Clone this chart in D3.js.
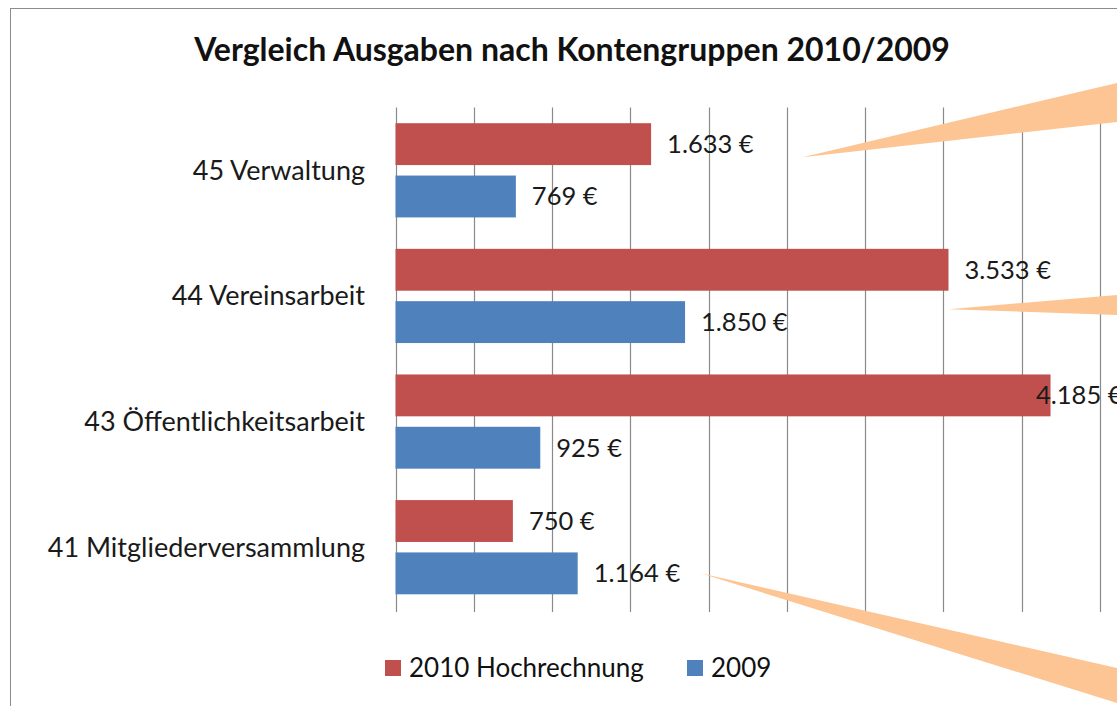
<!DOCTYPE html>
<html>
<head>
<meta charset="utf-8">
<script src="https://cdn.jsdelivr.net/npm/d3@7"></script>
<style>
  body { margin: 0; background: #fff; }
  text { font-family: Lato, "Open Sans", sans-serif; }
</style>
</head>
<body>
<svg id="chart" width="1117" height="706"></svg>
<script>
var categories = ['45 Verwaltung', '44 Vereinsarbeit', '43 Öffentlichkeitsarbeit', '41 Mitgliederversammlung'];
var seriesNames = ['2010 Hochrechnung', '2009'];
var values2010 = [1633, 3533, 4185, 750];
var values2009 = [769, 1850, 925, 1164];
var tickValues = [0, 500, 1000, 1500, 2000, 2500, 3000, 3500, 4000, 4500, 5000];

var colors = ['#c0504d', '#4f81bd'];
var title = 'Vergleich Ausgaben nach Kontengruppen 2010/2009';

var svg = d3.select('#chart'),
    margin = {top: 107.5, left: 395.5, bottom: 96},
    height = +svg.attr('height') - margin.top - margin.bottom;

var data = categories.map(function (c, i) {
  return {cat: c, vals: [values2010[i], values2009[i]]};
});

// frame of the chart area (runs off the picture at right and bottom)
svg.append('rect')
    .attr('x', 10.5).attr('y', 8.5)
    .attr('width', 1300).attr('height', 900)
    .attr('fill', '#fff')
    .attr('stroke', '#8c8c8c');

var x = d3.scaleLinear().domain([0, 5000]).range([margin.left, margin.left + 782.6]);
var y0 = d3.scaleBand().domain(categories)
    .range([margin.top, margin.top + height])
    .paddingInner(0.25).paddingOuter(0.125);
var y1 = d3.scaleBand().domain([0, 1]).range([0, y0.bandwidth()]).paddingInner(0.2);

// gridlines
svg.append('g')
    .selectAll('line')
    .data(tickValues)
  .enter().append('line')
    .attr('x1', function (d) { return Math.round(x(d)) + 0.5; })
    .attr('x2', function (d) { return Math.round(x(d)) + 0.5; })
    .attr('y1', margin.top)
    .attr('y2', margin.top + height + 2)
    .attr('stroke', '#8a8a8a')
    .attr('stroke-width', 1.2);

// title
svg.append('text')
    .attr('x', 572).attr('y', 61)
    .attr('text-anchor', 'middle')
    .style('font-size', '32px')
    .style('font-weight', 'bold')
    .attr('fill', '#111')
    .text(title);

// category labels
svg.append('g')
    .selectAll('text')
    .data(categories)
  .enter().append('text')
    .attr('x', 365)
    .attr('y', function (d) { return y0(d) + y0.bandwidth() / 2; })
    .attr('dy', '0.35em')
    .attr('text-anchor', 'end')
    .style('font-size', '27px')
    .attr('fill', '#1a1a1a')
    .text(function (d) { return d; });

// bars
var groups = svg.append('g')
    .selectAll('g')
    .data(data)
  .enter().append('g')
    .attr('transform', function (d) { return 'translate(0,' + y0(d.cat) + ')'; });

groups.selectAll('rect')
    .data(function (d) { return d.vals; })
  .enter().append('rect')
    .attr('x', x(0))
    .attr('y', function (d, i) { return y1(i); })
    .attr('width', function (d) { return x(d) - x(0); })
    .attr('height', y1.bandwidth())
    .attr('fill', function (d, i) { return colors[i]; });

// value labels, pushed left where they would run past the plot
var fmt = function (v) { return d3.format(',')(v).replace(',', '.') + ' €'; };
var labelMax = 1036;
groups.selectAll('text')
    .data(function (d) { return d.vals; })
  .enter().append('text')
    .attr('x', function (d) { return Math.min(x(d) + 16, labelMax); })
    .attr('y', function (d, i) { return y1(i) + y1.bandwidth() / 2; })
    .attr('dy', '0.35em')
    .style('font-size', '25.5px')
    .attr('fill', '#1a1a1a')
    .text(fmt);

// orange callout wedges coming in from the right edge
var callouts = [
  {tip: [x(2600), y0(categories[0]) + y1(0) + 34], top: [1117, 83], bottom: [1117, 122]},
  {tip: [x(values2010[1]), y0(categories[1]) + y1(1) + 8], top: [1117, 295], bottom: [1117, 315]},
  {tip: [x(1950), y0(categories[3]) + y1(1) + y1.bandwidth() / 2], top: [1117, 668], bottom: [1117, 703]}
];
svg.append('g')
    .selectAll('polygon')
    .data(callouts)
  .enter().append('polygon')
    .attr('points', function (d) { return [d.tip, d.top, d.bottom].join(' '); })
    .attr('fill', '#fdc593');

// legend
var legend = svg.append('g')
    .selectAll('g')
    .data(seriesNames)
  .enter().append('g')
    .attr('transform', function (d, i) { return 'translate(' + [385, 687][i] + ',660)'; });

legend.append('rect')
    .attr('width', 16).attr('height', 16)
    .attr('fill', function (d, i) { return colors[i]; });

legend.append('text')
    .attr('x', 24).attr('y', 8)
    .attr('dy', '0.35em')
    .style('font-size', '26px')
    .attr('fill', '#111')
    .text(function (d) { return d; });
</script>
</body>
</html>
